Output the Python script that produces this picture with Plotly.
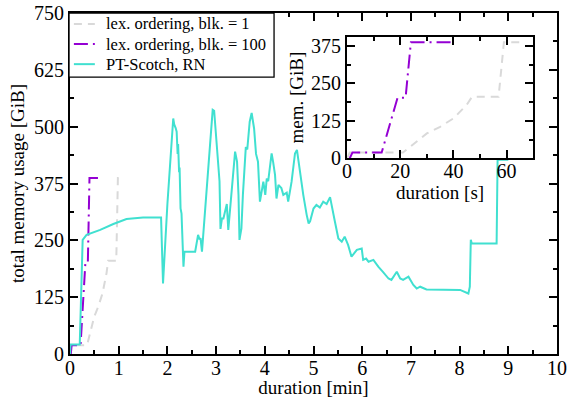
import plotly.graph_objects as go

# ---- data ----
# PT-Scotch, RN (minutes, GiB)
t_rn = [0, 0.01, 0.2, 0.26, 0.34, 0.62, 0.89, 1.16, 1.5, 1.87, 1.91, 2.00, 2.12, 2.14, 2.17, 2.19, 2.21, 2.22, 2.24,
        2.25, 2.27, 2.29, 2.33, 2.35, 2.57, 2.63, 2.66, 2.68, 2.71, 2.93, 2.96, 3.00, 3.03, 3.05, 3.07, 3.09, 3.12,
        3.15, 3.22, 3.25, 3.31, 3.39, 3.43, 3.46, 3.48, 3.52, 3.55, 3.61, 3.64, 3.69, 3.73, 3.75, 3.78, 3.82, 3.86,
        3.90, 3.94, 3.97, 4.01, 4.04, 4.07, 4.14, 4.17, 4.21, 4.24, 4.28, 4.34, 4.38, 4.45, 4.48, 4.55, 4.62, 4.66,
        4.72, 4.79, 4.86, 4.90, 4.93, 5.00, 5.06, 5.13, 5.20, 5.27, 5.34, 5.38, 5.44, 5.51, 5.58, 5.64, 5.71, 5.78,
        5.89, 5.99, 6.02, 6.08, 6.13, 6.23, 6.33, 6.43, 6.54, 6.60, 6.71, 6.78, 6.84, 6.95, 7.05, 7.12, 7.19, 7.32,
        7.73, 8.01, 8.18, 8.21, 8.23, 8.25, 8.76, 8.78, 9.0]
mem_rn = [0, 21, 21, 251, 262, 273, 286, 297, 300, 300, 155, 330, 518, 505, 497, 489, 440, 462, 400,
          410, 320, 309, 192, 225, 225, 262, 252, 255, 225, 537, 535, 485, 440, 408, 380, 275, 298,
          298, 330, 273, 350, 445, 423, 350, 251, 276, 350, 455, 450, 511, 530, 515, 496, 440, 423,
          335, 357, 379, 350, 386, 380, 441, 423, 394, 342, 372, 365, 350, 355, 335, 379, 441, 449,
          401, 350, 306, 287, 292, 320, 328, 322, 335, 330, 345, 320, 291, 254, 247, 258, 240, 214,
          229, 232, 207, 210, 203, 207, 192, 180, 166, 163, 181, 166, 163, 170, 152, 144, 148, 142,
          141, 141, 133, 148, 251, 243, 243, 427, 427]

# lex. ordering, blk. = 1 (seconds, GiB)
t_blk1 = [0, 1, 21, 30, 35, 40, 45, 47, 57, 59, 66]
mem_blk1 = [0, 19, 19, 83, 105, 133, 178, 205, 205, 387, 387]

# lex. ordering, blk. = 100 (seconds, GiB)
t_blk100 = [1, 2, 13, 19, 22, 24, 39]
mem_blk100 = [0, 19, 19, 202, 202, 387, 387]

series_names = ["lex. ordering, blk. = 1", "lex. ordering, blk. = 100", "PT-Scotch, RN"]

GREY = "#d9d9d9"
PURPLE = "#9400d3"
TURQ = "#40e0d0"
FONT = "Liberation Serif, Times New Roman, serif"
DASH_GREY = "8px,6px"
DASH_PURPLE = "14px,5px,2px,5px"

fig = go.Figure()

fig.add_trace(go.Scatter(x=[t / 60 for t in t_blk1], y=mem_blk1, mode="lines",
                         name=series_names[0], showlegend=False,
                         line=dict(color=GREY, width=2, dash=DASH_GREY)))
fig.add_trace(go.Scatter(x=[t / 60 for t in t_blk100], y=mem_blk100, mode="lines",
                         name=series_names[1], showlegend=False,
                         line=dict(color=PURPLE, width=2, dash=DASH_PURPLE)))
fig.add_trace(go.Scatter(x=t_rn, y=mem_rn, mode="lines", name=series_names[2], showlegend=False,
                         line=dict(color=TURQ, width=2)))

# inset
fig.add_trace(go.Scatter(x=t_blk1, y=mem_blk1, mode="lines", showlegend=False,
                         xaxis="x2", yaxis="y2",
                         line=dict(color=GREY, width=2, dash=DASH_GREY)))
fig.add_trace(go.Scatter(x=t_blk100, y=mem_blk100, mode="lines", showlegend=False,
                         xaxis="x2", yaxis="y2",
                         line=dict(color=PURPLE, width=2, dash=DASH_PURPLE)))

# legend drawn as a box with line samples and text
fig.add_shape(type="rect", xref="paper", yref="paper", x0=-0.002, x1=0.419, y0=0.812, y1=1.0,
              fillcolor="white", line=dict(color="black", width=1.3), layer="above")
row_y = [0.968, 0.909, 0.850]
styles = [(GREY, DASH_GREY), (PURPLE, DASH_PURPLE), (TURQ, "solid")]
for name, yy, (col, dsh) in zip(series_names, row_y, styles):
    fig.add_shape(type="line", xref="paper", yref="paper", x0=0.008, x1=0.051, y0=yy, y1=yy,
                  line=dict(color=col, width=2, dash=dsh), layer="above")
    fig.add_annotation(text=name, xref="paper", yref="paper", x=0.0698, y=yy,
                       xanchor="left", yanchor="middle", showarrow=False,
                       font=dict(family=FONT, size=16.5, color="black"))

axis_common = dict(showline=True, linecolor="black", linewidth=2, mirror="ticks",
                   ticks="inside", ticklen=8, tickwidth=1.5, tickcolor="black",
                   showgrid=False, zeroline=False, automargin=False,
                   tickfont=dict(family=FONT, size=20, color="black"))

fig.update_layout(
    width=569, height=398,
    margin=dict(l=70, r=12, t=13, b=44, autoexpand=False),
    plot_bgcolor="white", paper_bgcolor="white",
    font=dict(family=FONT, color="black"),
    showlegend=False,
    xaxis=dict(axis_common, range=[0, 10], dtick=1, tick0=0, ticklabelstandoff=-5,
               minor=dict(dtick=0.5, ticks="inside", ticklen=4, tickcolor="black"),
               title=dict(text="duration [min]", font=dict(family=FONT, size=19), standoff=0)),
    yaxis=dict(axis_common, range=[0, 750], dtick=125, tick0=0,
               minor=dict(dtick=62.5, ticks="inside", ticklen=4, tickcolor="black"),
               title=dict(text="total memory usage [GiB]", font=dict(family=FONT, size=19), standoff=4)),
    xaxis2=dict(axis_common, domain=[0.569, 0.951], anchor="y2", range=[0, 70], dtick=20, tick0=0,
                ticklabelstandoff=-6,
                minor=dict(dtick=10, ticks="inside", ticklen=4, tickcolor="black"),
                title=dict(text="duration [s]", font=dict(family=FONT, size=19), standoff=0)),
    yaxis2=dict(axis_common, domain=[0.574, 0.930], anchor="x2", range=[0, 405], dtick=125, tick0=0,
                minor=dict(dtick=62.5, ticks="inside", ticklen=4, tickcolor="black"),
                title=dict(text="mem. [GiB]", font=dict(family=FONT, size=19), standoff=2)),
)

fig.write_html("out.html")
